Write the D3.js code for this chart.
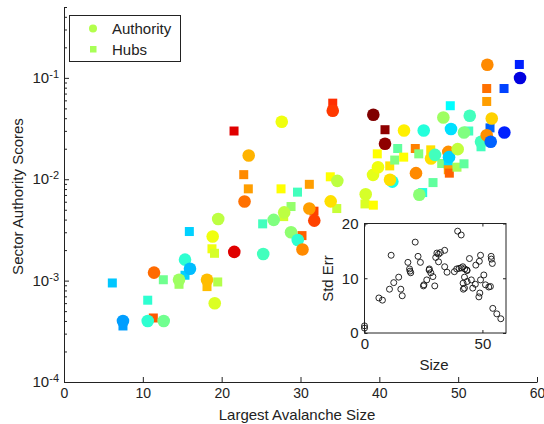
<!DOCTYPE html>
<html><head><meta charset="utf-8">
<script src="https://cdn.jsdelivr.net/npm/d3@7"></script>
<style>body{margin:0;background:#fff}svg{display:block}text{font-family:"Liberation Sans",Arial,sans-serif;fill:#222}</style>
</head><body>
<svg id="c" width="544" height="424"></svg>
<script>
// Authority scores (circles): x = largest avalanche size, y = score, c = colour value (jet)
const authX = [7.48,10.62,12.65,11.42,14.59,15.35,15.98,18.14,19.12,18.86,19.56,21.6,25.27,26.6,27.93,27.62,23.43,22.9,28.8,29.65,30.25,31.12,31.75,34.09,34.67,33.83,38.27,39.24,39.2,39.83,41.65,41.35,40.72,43.13,45.63,44.65,46.56,47.06,45.07,48.12,49.09,48.75,48.84,49.94,50.74,51.47,52.9,53.62,53.7,54.26,54.13,55.86,57.85];
const authY = [0.0004,0.0004,0.0004,0.0012,0.00102,0.00161,0.00131,0.00102,0.000598,0.00272,0.00406,0.00192,0.00183,0.00397,0.00471,0.0369,0.01714,0.00603,0.0030,0.00252,0.00203,0.00514,0.00391,0.0473,0.00964,0.00605,0.0071,0.0433,0.01104,0.01315,0.00948,0.00987,0.0224,0.0303,0.0303,0.01148,0.016,0.0174,0.00702,0.0406,0.0313,0.0186,0.01652,0.0198,0.0289,0.0423,0.0234,0.0272,0.1345,0.0397,0.0234,0.0289,0.0996];
const authC = [0.28,0.42,0.485,0.77,0.53,0.42,0.31,0.69,0.59,0.61,0.56,0.905,0.44,0.5,0.56,0.61,0.70,0.765,0.515,0.42,0.74,0.72,0.81,0.82,0.56,0.655,0.585,1.0,0.60,0.61,0.40,0.655,0.985,0.64,0.41,0.74,0.655,0.44,0.51,0.53,0.345,0.735,0.33,0.565,0.5,0.44,0.44,0.735,0.74,0.67,0.22,0.156,0.095];
// Hub scores (squares)
const hubX = [6.13,7.48,11.33,10.62,12.6,14.59,15.35,15.9,18.14,19.5,18.77,19.09,21.57,22.8,23.38,25.2,28.8,27.87,27.53,29.62,31.12,31.71,30.19,34.09,33.78,34.6,38.18,39.24,39.74,40.72,41.32,41.95,42.33,43.09,44.56,45.0,46.52,46.81,45.5,47.91,48.75,48.75,48.88,49.85,50.74,49.0,51.34,52.9,53.62,53.62,54.04,55.82,57.76];
const hubY = [0.000948,0.000357,0.000428,0.000641,0.00102,0.00092,0.00113,0.00305,0.000873,0.00097,0.00206,0.00186,0.0299,0.0111,0.00804,0.00363,0.00538,0.00428,0.00804,0.00746,0.00891,0.00484,0.00278,0.0563,0.01057,0.00514,0.00571,0.00555,0.0178,0.0308,0.01354,0.01546,0.0201,0.01652,0.0201,0.0178,0.0195,0.00927,0.00739,0.0143,0.01387,0.0124,0.01148,0.01315,0.0142,0.0531,0.0299,0.0209,0.0785,0.0585,0.0321,0.0785,0.1355];
const hubC = [0.32,0.28,0.79,0.42,0.485,0.53,0.33,0.33,0.69,0.55,0.61,0.585,0.905,0.74,0.72,0.44,0.52,0.58,0.625,0.44,0.72,0.81,0.78,0.83,0.625,0.57,0.59,0.625,0.625,0.985,0.65,0.5,0.47,0.625,0.75,0.5,0.655,0.47,0.405,0.5,0.345,0.72,0.78,0.54,0.47,0.375,0.44,0.44,0.765,0.72,0.22,0.19,0.156];
// Inset: standard error vs size
const insetX = [0,0,6.1,7.6,10.6,12.4,14.5,11.3,15.4,16.0,18.4,19.1,19.6,19.3,21.5,22.7,23.7,25.0,26.4,27.5,28.1,29.0,29.8,30.2,31.4,32.2,31.4,34.0,34.0,35.0,38.1,39.1,40.1,41.0,39.5,41.0,41.7,42.4,43.5,41.8,42.4,44.5,45.3,45.9,47.0,47.2,48.7,49.2,49.2,48.9,48.5,50.6,51.3,52.7,53.4,53.7,53.8,54.2,54.4,56.1,57.8,43.4,42.5,43.5,41.9,27.4,25.2,30.7];
const insetY = [1.3,0.9,6.4,6.0,8.0,9.2,10.2,14.2,8.0,6.8,12.9,11.7,11.0,11.3,16.6,14.0,12.9,8.6,9.7,11.7,11.0,10.3,8.6,13.8,14.4,14.7,13.0,15.1,12.1,11.1,11.2,11.7,11.8,11.9,18.6,17.9,12.1,10.2,9.4,9.1,8.2,13.6,9.7,8.2,8.9,12.4,13.1,14.2,9.7,7.3,6.6,10.6,8.8,8.4,8.5,14.0,13.5,12.7,4.5,3.5,2.6,11.5,11.7,11.4,8.0,11.5,8.8,14.6];
const xTicks = [0,10,20,30,40,50,60];
const yDecades = [-4,-3,-2,-1];
const insetXTicks = [0,50];
const insetYTicks = [0,10,20];
const legendItems = ["Authority","Hubs"];

function jet(t){
  const cl = v => Math.max(0, Math.min(1, v));
  const r = cl(Math.min(4*t-1.5, -4*t+4.5));
  const g = cl(Math.min(4*t-0.5, -4*t+3.5));
  const b = cl(Math.min(4*t+0.5, -4*t+2.5));
  return d3.rgb(r*255, g*255, b*255).toString();
}
const color = d3.scaleSequential(jet).domain([0,1]);

const svg = d3.select("#c");
const x = d3.scaleLinear().domain([0,60]).range([64,537]);
const y = d3.scaleLog().domain([1e-4,0.5]).range([382,7]);
const ink = "#222";
const FONT = "Liberation Sans, Arial, sans-serif";

// squares first, circles on top
const sq = 9;
svg.append("g").selectAll("rect").data(hubX.map((v,i)=>({x:v,y:hubY[i],c:hubC[i]})))
  .join("rect").attr("x",d=>x(d.x)-sq/2).attr("y",d=>y(d.y)-sq/2).attr("width",sq).attr("height",sq)
  .attr("fill",d=>color(d.c));
svg.append("g").selectAll("circle").data(authX.map((v,i)=>({x:v,y:authY[i],c:authC[i]})))
  .join("circle").attr("cx",d=>x(d.x)).attr("cy",d=>y(d.y)).attr("r",6.3)
  .attr("fill",d=>color(d.c));

// x axis
const gx = svg.append("g").attr("transform","translate(0,382)")
  .call(d3.axisBottom(x).tickValues(xTicks).tickSizeInner(-5).tickSizeOuter(0).tickPadding(6));
gx.selectAll("text").attr("font-size",14).attr("fill",ink).attr("font-family",FONT);
gx.select(".domain").attr("stroke",ink);
gx.selectAll(".tick line").attr("stroke",ink);

// y axis: minor ticks
const minors = [];
for (let e=-4;e<0;e++) for (let m=2;m<=9;m++){ const v=m*Math.pow(10,e); if (v<=0.5) minors.push(v); }
const gyMinor = svg.append("g").attr("transform","translate(64,0)")
  .call(d3.axisLeft(y).tickValues(minors).tickSizeInner(-3).tickSizeOuter(0).tickFormat(""));
gyMinor.select(".domain").attr("stroke",ink);
gyMinor.selectAll(".tick line").attr("stroke",ink);
const gy = svg.append("g").attr("transform","translate(64,0)")
  .call(d3.axisLeft(y).tickValues(yDecades.map(e=>Math.pow(10,e))).tickSizeInner(-5).tickSizeOuter(0).tickFormat(""));
gy.select(".domain").remove();
gy.selectAll(".tick line").attr("stroke",ink);
gy.selectAll(".tick").each(function(d,i){
  const t = d3.select(this).append("text").attr("x",-5).attr("y",4.5).attr("text-anchor","end")
    .attr("font-size",15).attr("fill",ink).attr("font-family",FONT);
  t.append("tspan").text("10");
  t.append("tspan").attr("dy",-5).attr("font-size",11).text(String(yDecades[i]));
});

// axis titles
svg.append("text").attr("x",297).attr("y",420).attr("text-anchor","middle").attr("font-size",15).text("Largest Avalanche Size");
svg.append("text").attr("transform","translate(23,196.5) rotate(-90)").attr("text-anchor","middle").attr("font-size",15).text("Sector Authority Scores");

// legend
const lg = svg.append("g");
lg.append("rect").attr("x",69.5).attr("y",15.5).attr("width",111).attr("height",46).attr("fill","#fff").attr("stroke",ink);
lg.append("circle").attr("cx",93).attr("cy",28.5).attr("r",4).attr("fill",color(0.55));
lg.append("rect").attr("x",90).attr("y",46).attr("width",6.5).attr("height",6.5).attr("fill",color(0.54));
legendItems.forEach((s,i)=>lg.append("text").attr("x",112).attr("y",34+i*21).attr("font-size",15).text(s));

// inset
const ix = d3.scaleLinear().domain([0,60]).range([364.5,506]);
const iy = d3.scaleLinear().domain([0,20]).range([333,223.5]);
const ins = svg.append("g");
ins.append("rect").attr("x",364.5).attr("y",223.5).attr("width",141.5).attr("height",109.5).attr("fill","#fff").attr("stroke",ink);
const igx = ins.append("g").attr("transform","translate(0,333)")
  .call(d3.axisBottom(ix).tickValues(insetXTicks).tickSizeInner(-3).tickSizeOuter(0).tickPadding(5.7));
igx.select(".domain").remove();
igx.selectAll("text").attr("font-size",15).attr("fill",ink).attr("font-family",FONT);
igx.selectAll(".tick line").attr("stroke",ink);
const igxt = ins.append("g").attr("transform","translate(0,223.5)")
  .call(d3.axisTop(ix).tickValues(insetXTicks).tickSizeInner(-3).tickSizeOuter(0).tickFormat(""));
igxt.select(".domain").remove(); igxt.selectAll(".tick line").attr("stroke",ink);
const igy = ins.append("g").attr("transform","translate(364.5,0)")
  .call(d3.axisLeft(iy).tickValues(insetYTicks).tickSizeInner(-3).tickSizeOuter(0).tickPadding(6));
igy.select(".domain").remove();
igy.selectAll("text").attr("font-size",15).attr("fill",ink).attr("font-family",FONT);
igy.selectAll(".tick line").attr("stroke",ink);
const igyr = ins.append("g").attr("transform","translate(506,0)")
  .call(d3.axisRight(iy).tickValues(insetYTicks).tickSizeInner(-3).tickSizeOuter(0).tickFormat(""));
igyr.select(".domain").remove(); igyr.selectAll(".tick line").attr("stroke",ink);
ins.append("g").selectAll("circle").data(insetX.map((v,i)=>({x:v,y:insetY[i]})))
  .join("circle").attr("cx",d=>ix(d.x)).attr("cy",d=>iy(d.y)).attr("r",3)
  .attr("fill","none").attr("stroke","#111").attr("stroke-width",0.9);
ins.append("text").attr("x",434).attr("y",370).attr("text-anchor","middle").attr("font-size",15).text("Size");
ins.append("text").attr("transform","translate(333,278.5) rotate(-90)").attr("text-anchor","middle").attr("font-size",15).text("Std Err");
</script>
</body></html>
